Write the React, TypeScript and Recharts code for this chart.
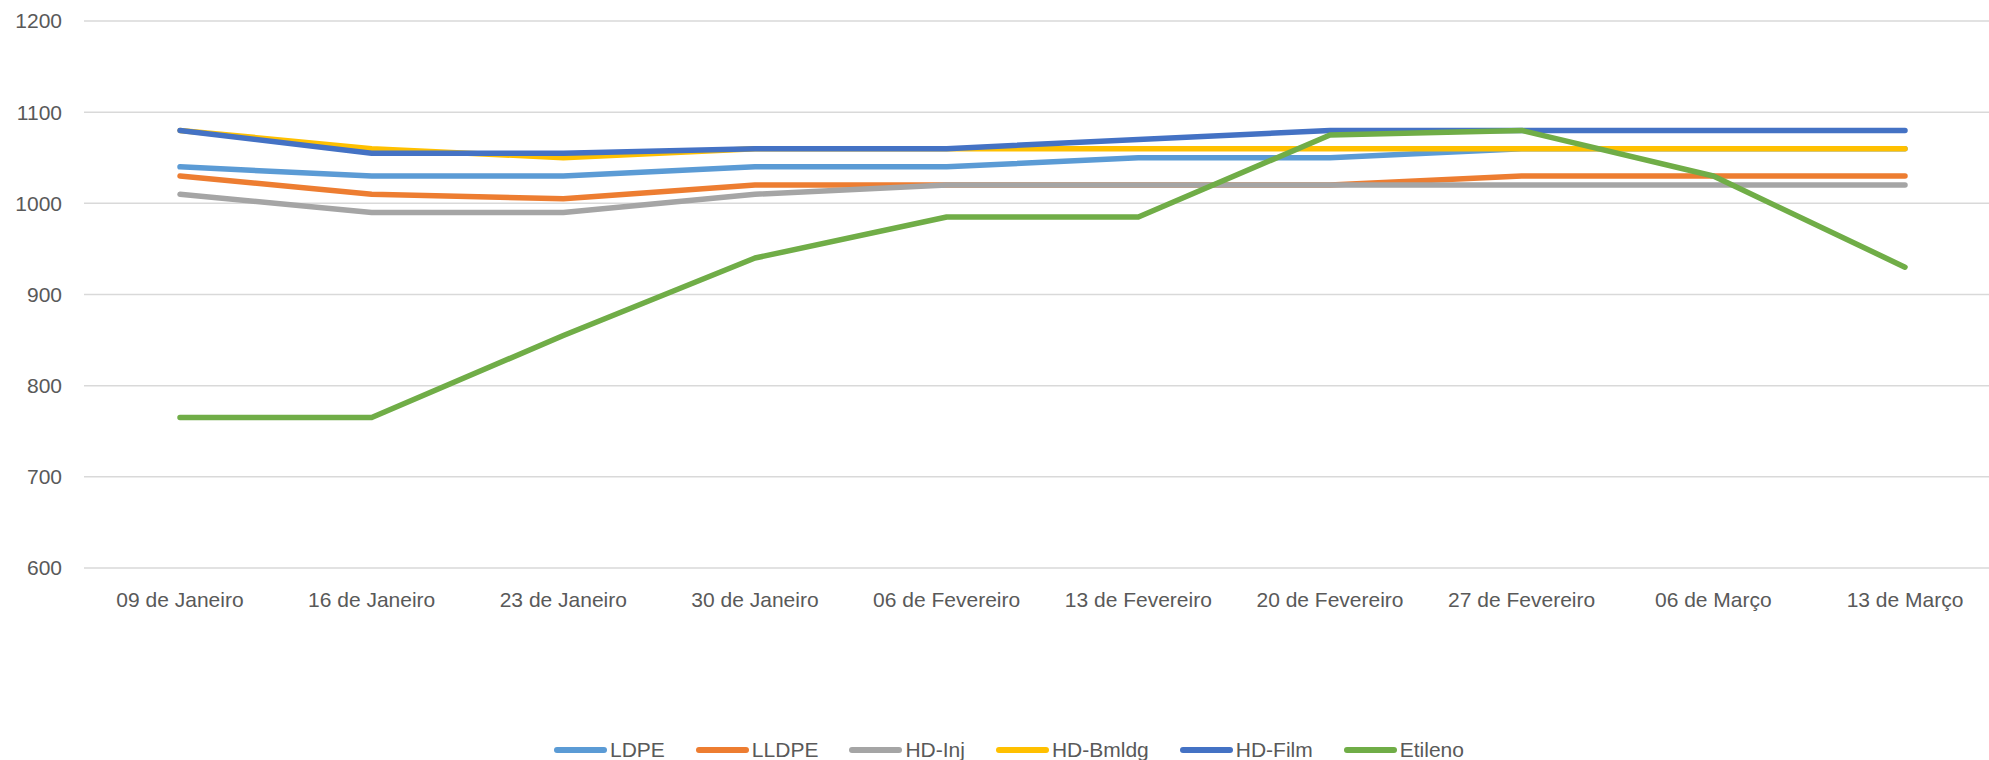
import React from 'react';
import { CartesianGrid, Legend, Line, LineChart, XAxis, YAxis } from 'recharts';

const dates = [
    '09 de Janeiro',
    '16 de Janeiro',
    '23 de Janeiro',
    '30 de Janeiro',
    '06 de Fevereiro',
    '13 de Fevereiro',
    '20 de Fevereiro',
    '27 de Fevereiro',
    '06 de Março',
    '13 de Março',
];

const ldpe = [1040, 1030, 1030, 1040, 1040, 1050, 1050, 1060, 1060, 1060];
const lldpe = [1030, 1010, 1005, 1020, 1020, 1020, 1020, 1030, 1030, 1030];
const hdInj = [1010, 990, 990, 1010, 1020, 1020, 1020, 1020, 1020, 1020];
const hdBmldg = [1080, 1060, 1050, 1060, 1060, 1060, 1060, 1060, 1060, 1060];
const hdFilm = [1080, 1055, 1055, 1060, 1060, 1070, 1080, 1080, 1080, 1080];
const etileno = [765, 765, 855, 940, 985, 985, 1075, 1080, 1030, 930];

const yTicks = [600, 700, 800, 900, 1000, 1100, 1200];

const series = [
    { key: 'LDPE', values: ldpe, color: '#5B9BD5' },
    { key: 'LLDPE', values: lldpe, color: '#ED7D31' },
    { key: 'HD-Inj', values: hdInj, color: '#A5A5A5' },
    { key: 'HD-Bmldg', values: hdBmldg, color: '#FFC000' },
    { key: 'HD-Film', values: hdFilm, color: '#4472C4' },
    { key: 'Etileno', values: etileno, color: '#70AD47' },
];

const data = dates.map((date, i) => {
    const row: Record<string, string | number> = { date };
    series.forEach((s) => {
        row[s.key] = s.values[i];
    });
    return row;
});

const FONT = '"Liberation Sans", Arial, sans-serif';
const TEXT_COLOR = '#595959';

// Excel-style legend: thick rounded swatch followed by the name
const LegendContent = () => (
    <div
        style={{
            display: 'flex',
            justifyContent: 'center',
            alignItems: 'center',
            height: 30,
            paddingLeft: 48,
            fontFamily: FONT,
            fontSize: 21,
            color: TEXT_COLOR,
        }}
    >
        {series.map((s) => (
            <div key={s.key} style={{ display: 'flex', alignItems: 'center', marginRight: 31 }}>
                <span
                    style={{
                        display: 'inline-block',
                        width: 53,
                        height: 6,
                        borderRadius: 3,
                        background: s.color,
                        marginRight: 3,
                    }}
                />
                <span>{s.key}</span>
            </div>
        ))}
    </div>
);

export default function App() {
    return (
        <div
            style={{
                position: 'absolute',
                left: 0,
                top: 0,
                width: 1989,
                height: 760,
                overflow: 'hidden',
                background: '#fff',
            }}
        >
            <LineChart
                width={2001}
                height={765}
                data={data}
                margin={{ top: 21, right: 0, left: 0, bottom: 0 }}
            >
                <CartesianGrid vertical={false} stroke="#d9d9d9" strokeWidth={1.5} />
                <XAxis
                    dataKey="date"
                    interval={0}
                    axisLine={false}
                    tickLine={false}
                    tickSize={6}
                    tickMargin={18}
                    height={167}
                    padding={{ left: 96, right: 96 }}
                    tick={{ fill: TEXT_COLOR, fontSize: 21, fontFamily: FONT }}
                />
                <YAxis
                    domain={[600, 1200]}
                    ticks={yTicks}
                    width={84}
                    axisLine={false}
                    tickLine={false}
                    tickSize={6}
                    tickMargin={16}
                    tick={{ fill: TEXT_COLOR, fontSize: 21, fontFamily: FONT }}
                />
                <Legend verticalAlign="bottom" content={() => <LegendContent />} />
                {series.map((s) => (
                    <Line
                        key={s.key}
                        type="linear"
                        dataKey={s.key}
                        stroke={s.color}
                        strokeWidth={5.5}
                        strokeLinecap="round"
                        strokeLinejoin="round"
                        dot={false}
                        activeDot={false}
                        isAnimationActive={false}
                    />
                ))}
            </LineChart>
        </div>
    );
}
